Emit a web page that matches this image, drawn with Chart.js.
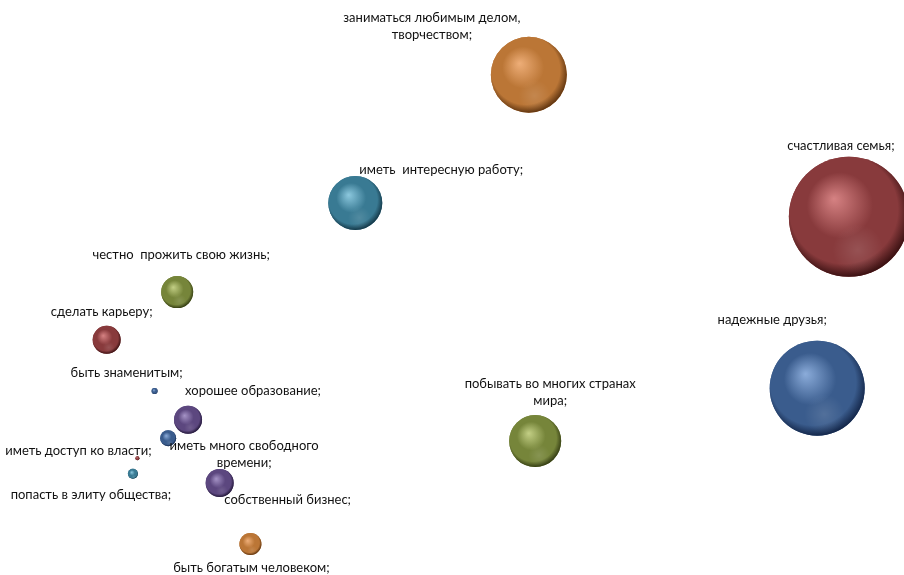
<!DOCTYPE html>
<html>
<head>
<meta charset="utf-8">
<script src="https://cdn.jsdelivr.net/npm/chart.js@4"></script>
<style>
html,body{margin:0;padding:0;background:#fff;}
#wrap{width:904px;height:575px;position:relative;}
</style>
</head>
<body>
<div id="wrap"><canvas id="c"></canvas></div>
<script>
// Categories (labels, may be multi-line)
const categories = [
  ["заниматься любимым делом,", "творчеством;"],
  ["счастливая семья;"],
  ["иметь  интересную работу;"],
  ["надежные друзья;"],
  ["побывать во многих странах", "мира;"],
  ["честно  прожить свою жизнь;"],
  ["сделать карьеру;"],
  ["быть знаменитым;"],
  ["хорошее образование;"],
  ["иметь много свободного", "времени;"],
  ["иметь доступ ко власти;"],
  ["попасть в элиту общества;"],
  ["собственный бизнес;"],
  ["быть богатым человеком;"]
];
// Series values
const xValues = [58.5, 93.9, 39.3, 90.4, 59.2, 19.6, 11.8, 17.1, 20.8, 18.6, 15.2, 14.7, 24.3, 27.7];
const yValues = [87.0, 62.3, 64.7, 32.5, 23.3, 49.2, 40.9, 32.0, 27.0, 23.8, 20.3, 17.6, 16.0, 5.4];
const sizeValues = [38, 60, 27, 47.5, 26, 16, 14, 3, 14, 8, 2, 5, 14, 11];

// Styles
const palette = {
  orange: ["#eeae78", "#bb7636", "#5a310e"],
  red:    ["#d68283", "#883a3c", "#360f10"],
  teal:   ["#8cc8de", "#397a93", "#123342"],
  blue:   ["#8bacda", "#3a5c8d", "#122446"],
  olive:  ["#c3cf85", "#76853a", "#303811"],
  purple: ["#a593c6", "#5c477f", "#1f1534"]
};
const colorKeys = ["orange","red","teal","blue","olive","olive","red","blue","purple","blue","red","teal","purple","orange"];
const labelOffsets = [[-97,-57],[-8,-71],[86,-33],[-45,-68],[15,-57],[4,-37],[-5,-28],[-28,-18],[65,-29],[76,8],[-59,-7],[-42,21],[68,17],[1,24]];

const points = xValues.map((x, i) => ({x: x, y: yValues[i], r: sizeValues[i]}));

const spherePlugin = {
  id: "sphereShading",
  afterDatasetsDraw(chart) {
    const ctx = chart.ctx;
    const meta = chart.getDatasetMeta(0);
    ctx.save();
    meta.data.forEach((el, i) => {
      const r = el.options.radius;
      const cx = el.x, cy = el.y;
      if (!isFinite(cx) || !isFinite(cy) || !(r > 0)) return;
      const c = palette[colorKeys[i]];
      const g = ctx.createRadialGradient(cx - 0.25*r, cy - 0.3*r, 0, cx - 0.05*r, cy - 0.08*r, r*1.1);
      g.addColorStop(0, c[0]);
      g.addColorStop(0.5, c[1]);
      g.addColorStop(0.82, c[1]);
      g.addColorStop(1, c[2]);
      ctx.beginPath();
      ctx.arc(cx, cy, r, 0, Math.PI*2);
      ctx.fillStyle = g;
      ctx.fill();
      if (r >= 4) {
        const g2 = ctx.createRadialGradient(cx + 0.15*r, cy + 0.55*r, 0, cx + 0.15*r, cy + 0.55*r, 0.42*r);
        g2.addColorStop(0, "rgba(255,255,255,0.12)");
        g2.addColorStop(1, "rgba(255,255,255,0)");
        ctx.fillStyle = g2;
        ctx.fill();
      }
    });
    ctx.font = "13px Lato, 'Open Sans', sans-serif";
    ctx.fillStyle = "#111";
    ctx.textAlign = "center";
    ctx.textBaseline = "middle";
    meta.data.forEach((el, i) => {
      const [dx, dy] = labelOffsets[i];
      categories[i].forEach((line, j) => {
        ctx.fillText(line, el.x + dx, el.y + dy + j*17);
      });
    });
    ctx.restore();
  }
};

new Chart(document.getElementById("c"), {
  type: "bubble",
  data: {
    datasets: [{
      data: points,
      backgroundColor: colorKeys.map(k => palette[k][1]),
      borderWidth: 0,
      hoverBorderWidth: 0,
      clip: false
    }]
  },
  options: {
    responsive: true,
    maintainAspectRatio: false,
    animation: false,
    layout: {padding: 0, autoPadding: false},
    plugins: {legend: {display: false}, tooltip: {enabled: false}},
    scales: {
      x: {display: false, min: 0, max: 100},
      y: {display: false, min: 0, max: 100}
    }
  },
  plugins: [spherePlugin]
});
</script>
</body>
</html>
